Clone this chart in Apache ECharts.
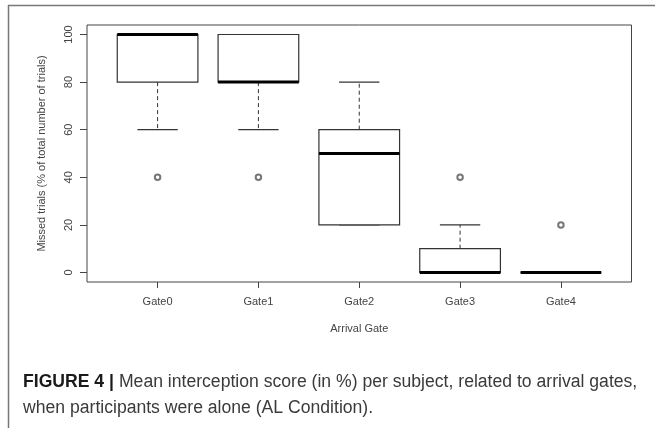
<!DOCTYPE html>
<html>
<head>
<meta charset="utf-8">
<script src="https://cdn.jsdelivr.net/npm/echarts@6/dist/echarts.min.js"></script>
<style>
html,body{margin:0;padding:0;background:#fff;}
#chart{width:655px;height:428px;}
</style>
</head>
<body>
<div id="chart"></div>
<script>
// ---- data ----
const gates = ['Gate0', 'Gate1', 'Gate2', 'Gate3', 'Gate4'];
const whiskerLow = [60, 60, 20, 0, 0];
const q1 = [80, 80, 20, 0, 0];
const median = [100, 80, 50, 0, 0];
const q3 = [100, 100, 60, 10, 0];
const whiskerHigh = [100, 100, 80, 20, 0];
const outlierGate = [0, 1, 3, 4];
const outlierValue = [40, 40, 40, 20];
const yTicks = [0, 20, 40, 60, 80, 100];
const xTicks = [1, 2, 3, 4, 5];

const boxData = gates.map((g, i) => [i + 1, whiskerLow[i], q1[i], median[i], q3[i], whiskerHigh[i]]);
const outData = outlierGate.map((g, k) => [g + 1, outlierValue[k]]);

const FONT = 'Liberation Sans';
const chart = echarts.init(document.getElementById('chart'), null, {renderer: 'canvas'});

function renderBox(params, api) {
  const x = api.value(0);
  const lo = api.value(1), a = api.value(2), m = api.value(3), b = api.value(4), hi = api.value(5);
  const half = 0.4, cap = 0.2;
  const pLT = api.coord([x - half, b]);
  const pRB = api.coord([x + half, a]);
  const mL = api.coord([x - half, m]);
  const mR = api.coord([x + half, m]);
  const c = api.coord([x, 0])[0];
  const yLo = api.coord([x, lo])[1], yA = api.coord([x, a])[1], yB = api.coord([x, b])[1], yHi = api.coord([x, hi])[1];
  const capL = api.coord([x - cap, 0])[0], capR = api.coord([x + cap, 0])[0];
  const lineCol = '#333';
  const dash = {stroke: lineCol, lineWidth: 1, lineDash: [4, 3]};
  const solid = {stroke: lineCol, lineWidth: 1.2};
  return {
    type: 'group',
    children: [
      {type: 'line', shape: {x1: c, y1: yB, x2: c, y2: yHi}, style: dash},
      {type: 'line', shape: {x1: c, y1: yA, x2: c, y2: yLo}, style: dash},
      {type: 'line', shape: {x1: capL, y1: yHi, x2: capR, y2: yHi}, style: solid},
      {type: 'line', shape: {x1: capL, y1: yLo, x2: capR, y2: yLo}, style: solid},
      {type: 'rect', shape: {x: pLT[0], y: pLT[1], width: pRB[0] - pLT[0], height: pRB[1] - pLT[1]},
        style: {fill: '#fff', stroke: lineCol, lineWidth: 1.2}},
      {type: 'line', shape: {x1: mL[0], y1: mL[1], x2: mR[0], y2: mR[1]}, style: {stroke: '#000', lineWidth: 3}}
    ]
  };
}

const option = {
  backgroundColor: '#fff',
  animation: false,
  title: {
    left: 23,
    top: 369,
    padding: 0,
    text: '{b|FIGURE 4 |} {n|Mean interception score (in %) per subject, related to arrival gates,}\n{n|when participants were alone (AL Condition).}',
    textStyle: {
      fontWeight: 'normal',
      rich: {
        b: {fontFamily: FONT, fontWeight: 'bold', fontSize: 17.6, color: '#1a1a1a', lineHeight: 26},
        n: {fontFamily: FONT, fontWeight: 'normal', fontSize: 17.6, color: '#3a3a3a', lineHeight: 26}
      }
    }
  },
  grid: {left: 87, right: 23.5, top: 25, bottom: 146, show: true, borderColor: '#444', borderWidth: 1, backgroundColor: 'transparent'},
  xAxis: {
    type: 'value', min: 0.3, max: 5.7,
    axisLine: {show: false, onZero: false},
    splitLine: {show: false},
    axisTick: {show: true, inside: false, length: 6, customValues: xTicks, lineStyle: {color: '#444'}},
    axisLabel: {customValues: xTicks, margin: 14, fontSize: 11, color: '#444', fontFamily: FONT,
      formatter: v => gates[Math.round(v) - 1] || ''},
    name: 'Arrival Gate', nameLocation: 'middle', nameGap: 41,
    nameTextStyle: {fontSize: 11, color: '#444', fontFamily: FONT}
  },
  yAxis: {
    type: 'value', min: -4, max: 104,
    axisLine: {show: false, onZero: false},
    splitLine: {show: false},
    axisTick: {show: true, inside: false, length: 7, customValues: yTicks, lineStyle: {color: '#444'}},
    axisLabel: {customValues: yTicks, rotate: 90, margin: 13, fontSize: 11, color: '#444', fontFamily: FONT},
    name: 'Missed trials (% of total number of trials)', nameLocation: 'middle', nameGap: 40, nameRotate: 90,
    nameTextStyle: {fontSize: 11, color: '#444', fontFamily: FONT}
  },
  graphic: [
    {type: 'line', shape: {x1: 8, y1: 5.5, x2: 655, y2: 5.5}, style: {stroke: '#777', lineWidth: 1.5}},
    {type: 'line', shape: {x1: 8.5, y1: 5, x2: 8.5, y2: 428}, style: {stroke: '#777', lineWidth: 1.5}}
  ],
  series: [
    {type: 'custom', renderItem: renderBox, data: boxData, encode: {x: 0, y: [1, 5]}, clip: false, z: 2},
    {type: 'scatter', data: outData, symbol: 'emptyCircle', symbolSize: 5.5, z: 3,
      itemStyle: {color: '#555', borderColor: '#555', borderWidth: 0.9}}
  ]
};
chart.setOption(option);
</script>
</body>
</html>
